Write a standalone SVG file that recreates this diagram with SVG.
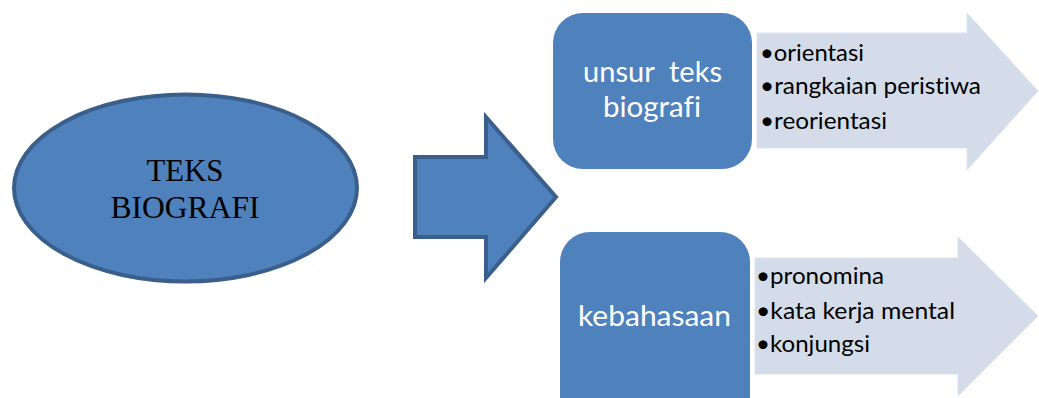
<svg xmlns="http://www.w3.org/2000/svg" width="1039" height="398" viewBox="0 0 1039 398">
<style>
.blue{fill:#4f81bd}
.outl{fill:#4f81bd;stroke:#3a5f8b;stroke-width:4;stroke-linejoin:miter}
.light{fill:#d4dcea;stroke:#dde3ef;stroke-width:1}
.serif{font-family:"Liberation Serif","Times New Roman",serif;font-size:32px;fill:#000;text-anchor:middle}
.head{font-family:Lato,"Liberation Sans",sans-serif;font-size:28px;fill:#fff;white-space:pre;font-variant-ligatures:none}
.item{font-family:Lato,"Liberation Sans",sans-serif;font-size:23px;fill:#000;font-variant-ligatures:none}
</style>
<rect width="1039" height="398" fill="#fff"/>
<g id="teks-biografi">
<ellipse cx="185.5" cy="188" rx="171.5" ry="93.5" class="outl" stroke-width="3"/>
<text class="serif" x="185" y="181" textLength="77" lengthAdjust="spacingAndGlyphs">TEKS</text>
<text class="serif" x="185" y="218" textLength="149" lengthAdjust="spacingAndGlyphs">BIOGRAFI</text>
</g>
<g id="connectors">
<path class="outl" d="M415,157 H486 V117 L556,197 L486,278 V237 H415 Z"/>
</g>
<g id="unsur-list">
<path class="light" d="M757,33 H967 V13 L1038,91 L967,170 V148 H757 Z"/>
<text class="item" x="760" y="61" textLength="104" lengthAdjust="spacingAndGlyphs">•orientasi</text>
<text class="item" x="760" y="94" textLength="221" lengthAdjust="spacingAndGlyphs">•rangkaian peristiwa</text>
<text class="item" x="760" y="129" textLength="127" lengthAdjust="spacingAndGlyphs">•reorientasi</text>
</g>
<g id="unsur-teks-biografi">
<rect class="blue" x="553" y="13" width="199" height="156" rx="30" ry="30"/>
<text class="head" x="583" y="82" textLength="139" lengthAdjust="spacingAndGlyphs">unsur  teks</text>
<text class="head" x="603" y="117" textLength="98" lengthAdjust="spacingAndGlyphs">biografi</text>
</g>
<g id="kebahasaan-list">
<path class="light" d="M755,258 H958 V237 L1038,316 L958,396 V374 H755 Z"/>
<text class="item" x="756" y="284" textLength="128" lengthAdjust="spacingAndGlyphs">•pronomina</text>
<text class="item" x="756" y="319" textLength="199" lengthAdjust="spacingAndGlyphs">•kata kerja mental</text>
<text class="item" x="756" y="352" textLength="114" lengthAdjust="spacingAndGlyphs">•konjungsi</text>
</g>
<g id="kebahasaan">
<rect class="blue" x="560" y="232" width="190" height="200" rx="30" ry="30"/>
<text class="head" x="578" y="326" textLength="153" lengthAdjust="spacingAndGlyphs">kebahasaan</text>
</g>
</svg>
